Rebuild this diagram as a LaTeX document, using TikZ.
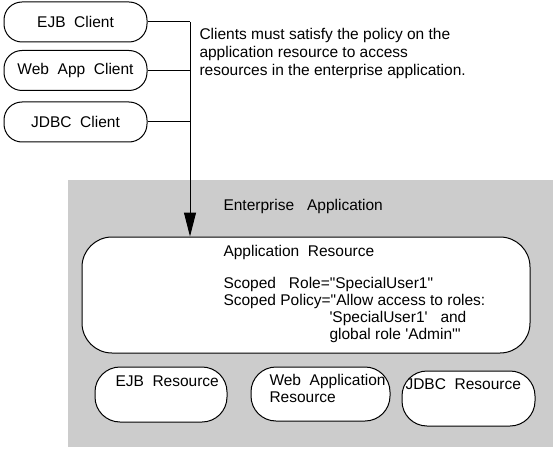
\documentclass[tikz,border=0pt]{standalone}
\usepackage{fontspec}
\newfontfamily\arialish{Liberation Sans}
\usetikzlibrary{arrows.meta}
\definecolor{bggray}{RGB}{204,204,204}
\begin{document}
\begin{tikzpicture}[x=1pt,y=-1pt,
  line width=1pt,
  txt/.style={font=\arialish\fontsize{15.5}{18}\selectfont, inner sep=0pt, anchor=west},
  client/.style={draw, fill=white, rounded corners=18pt, minimum width=143pt, minimum height=40pt, inner sep=0pt, font=\arialish\fontsize{15.5}{18}\selectfont},
  res/.style={draw, fill=white, rounded corners=25pt, inner sep=0pt},
  arr/.style={-{Triangle[length=24pt,width=12pt]}}
]
\useasboundingbox (0,0) rectangle (556,449);
\fill[white] (0,0) rectangle (556,449);
\fill[bggray] (68,180) rectangle (553,447);

\node[client] (ejbc) at (75.5,22) {EJB\ \ Client};
\node[client] (webc) at (75.5,70.5) {Web\ \ App\ \ Client};
\node[client] (jdbcc) at (75.5,122) {JDBC\ \ Client};

\node[draw, fill=white, rounded corners=30pt, minimum width=448pt, minimum height=116pt, inner sep=0pt] (appres) at (306,295) {};

\coordinate (corner) at (190,22);
\coordinate (jw) at (190,70.5);
\coordinate (jj) at (190,122);
\draw (ejbc.east) -- (corner);
\draw[arr] (corner) -- (appres.north -| corner);
\draw (webc.east) -- (jw);
\draw (jdbcc.east) -- (jj);

\node[txt] (note1) at (199,35) {Clients must satisfy the policy on the};
\node[txt] (note2) at (199,53) {application resource to access};
\node[txt] (note3) at (199,71) {resources in the enterprise application.};

\node[txt] (ent) at (223,206) {Enterprise\ \ \ Application};
\node[txt] (apt) at (223,252) {Application\ \ Resource};
\node[txt] (sr) at (223,284) {Scoped\ \ \ Role="SpecialUser1"};
\node[txt] (sp) at (223,301) {Scoped Policy="Allow access to roles:};
\node[txt] (su) at (329,318) {'SpecialUser1'\ \ \ and};
\node[txt] (gr) at (329,335) {global role 'Admin'"};

\node[res, minimum width=132pt, minimum height=55pt] (ejbr) at (161,394.5) {};
\node[res, minimum width=139pt, minimum height=54pt] (webr) at (320.5,394) {};
\node[res, minimum width=133pt, minimum height=55pt] (jdbcr) at (468.5,398.5) {};

\node[txt] (ejbrt) at (115,381) {EJB\ \ Resource};
\node[txt] (webrt1) at (269,381) {Web\ \ Application};
\node[txt] (webrt2) at (269,397) {Resource};
\node[txt] (jdbcrt) at (405,384) {JDBC\ \ Resource};
\end{tikzpicture}
\end{document}
